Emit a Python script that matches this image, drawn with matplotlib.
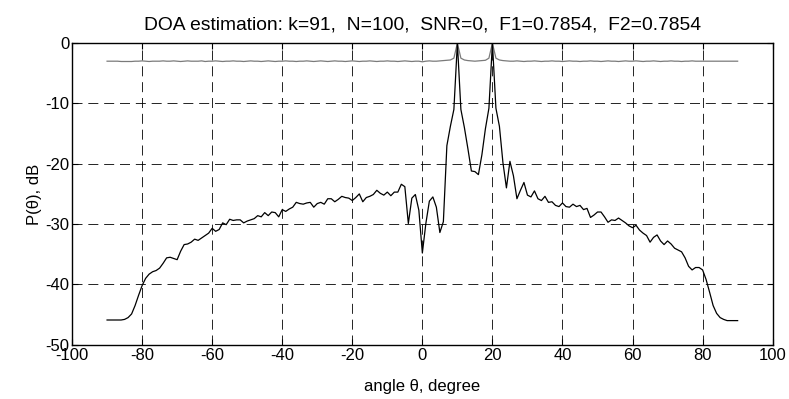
import numpy as np
import matplotlib
matplotlib.use("Agg")
import matplotlib.pyplot as plt

plt.rcParams["font.family"] = ["Liberation Sans", "DejaVu Sans"]
plt.rcParams["axes.unicode_minus"] = False

# angle grid, degrees
theta = list(range(-90, 91))

# classical (black) spectrum, dB at 1 degree steps
p_black = [
    -45.9, -45.9, -45.9, -45.9, -45.9, -45.8, -45.5, -44.9, -43.5, -41.8,  # -90..-81
    -40.2, -39.0, -38.3, -37.9, -37.7, -37.3, -36.5, -35.6, -35.5, -35.7,  # -80..-71
    -35.9, -34.5, -33.4, -33.3, -33.0, -32.5, -32.7, -32.3, -31.9, -31.5,  # -70..-61
    -30.7, -31.2, -30.9, -29.8, -30.1, -29.2, -29.4, -29.3, -29.3, -29.8,  # -60..-51
    -29.5, -29.3, -29.1, -28.6, -28.8, -28.1, -28.6, -28.0, -28.1, -28.8,  # -50..-41
    -27.6, -27.9, -27.5, -27.2, -26.4, -26.6, -26.7, -26.5, -26.4, -27.2,  # -40..-31
    -26.6, -26.4, -26.7, -25.8, -25.8, -26.3, -25.9, -25.4, -25.6, -25.7,  # -30..-21
    -26.1, -25.6, -25.0, -26.3, -25.6, -25.4, -25.1, -24.4, -24.9, -25.2,  # -20..-11
    -24.7, -25.3, -24.7, -24.7, -23.4, -23.8, -29.9, -25.7, -25.1, -27.7,  # -10..-1
    -34.8, -29.9, -26.2, -25.5, -27.2, -31.4, -29.6, -17.0, -13.8, -11.0,  # 0..9
    0.0, -11.0, -14.0, -17.5, -21.2, -21.3, -21.8, -18.5, -14.2, -10.8,    # 10..19
    0.0, -10.8, -13.8, -19.8, -24.0, -19.6, -22.0, -25.8, -24.4, -23.1,    # 20..29
    -25.2, -25.5, -24.5, -25.8, -26.1, -25.4, -26.4, -26.3, -26.9, -27.1,  # 30..39
    -26.5, -27.1, -27.2, -26.7, -27.1, -26.9, -27.6, -27.4, -28.9, -28.5,  # 40..49
    -28.0, -28.0, -28.8, -29.7, -29.3, -29.4, -29.0, -29.4, -29.8, -30.3,  # 50..59
    -30.6, -30.2, -31.0, -31.5, -31.9, -33.0, -32.2, -31.8, -32.8, -33.4,  # 60..69
    -32.8, -33.3, -34.0, -34.3, -34.6, -35.6, -37.0, -37.6, -37.2, -37.2,  # 70..79
    -37.6, -39.2, -41.3, -43.5, -44.8, -45.5, -45.8, -46.0, -46.0, -46.0,  # 80..89
    -46.0,                                                                 # 90
]

# high resolution (grey) spectrum, dB
p_grey = [
    -3.0, -3.0, -3.0, -3.0, -3.05, -3.05, -3.05, -3.05, -3.0, -3.0,
    -2.95, -3.0, -3.05, -3.0, -3.0, -3.0, -2.95, -3.0, -3.0, -2.95,
    -3.0, -3.05, -3.0, -2.95, -3.0, -3.0, -3.0, -2.95, -3.05, -3.0,
    -3.0, -2.95, -3.0, -3.05, -3.0, -3.0, -2.95, -3.0, -3.0, -3.05,
    -3.0, -2.95, -3.0, -3.0, -3.05, -3.0, -2.95, -3.0, -3.05, -3.0,
    -3.0, -2.95, -3.0, -3.0, -3.05, -3.0, -3.0, -2.95, -3.0, -3.05,
    -3.0, -2.95, -3.0, -3.05, -3.0, -2.95, -3.0, -3.0, -3.05, -3.0,
    -2.95, -3.0, -3.05, -3.0, -3.0, -2.95, -3.0, -3.05, -3.0, -3.0,
    -2.95, -3.0, -3.0, -3.05, -3.0, -2.95, -3.0, -3.05, -3.0, -3.0,
    -3.1, -3.0, -2.95, -3.0, -3.0, -2.95, -2.9, -2.85, -2.8, -2.5,
    0.0, -2.5, -2.8, -2.9, -2.95, -3.0, -2.95, -2.9, -2.85, -2.5,
    0.0, -2.5, -2.8, -2.9, -2.95, -3.0, -3.0, -2.95, -3.0, -3.05,
    -3.0, -3.0, -2.95, -3.0, -3.05, -3.0, -3.0, -2.95, -3.0, -3.0,
    -3.05, -3.0, -2.95, -3.0, -3.0, -3.05, -3.0, -3.0, -2.95, -3.0,
    -3.0, -3.05, -3.0, -2.95, -3.0, -3.0, -3.05, -3.0, -2.95, -3.0,
    -3.0, -2.95, -3.0, -3.05, -3.0, -3.0, -2.95, -3.0, -3.05, -3.0,
    -3.0, -2.95, -3.0, -3.0, -3.05, -3.0, -3.0, -2.95, -3.0, -3.0,
    -3.0, -3.0, -3.0, -3.0, -3.0, -3.0, -3.0, -3.0, -3.0, -3.0,
    -3.0,
]

title = "DOA estimation: k=91,  N=100,  SNR=0,  F1=0.7854,  F2=0.7854"
xticks = [-100, -80, -60, -40, -20, 0, 20, 40, 60, 80, 100]
yticks = [-50, -40, -30, -20, -10, 0]

fig = plt.figure(figsize=(7.89, 3.99), dpi=100)
ax = fig.add_axes([0.0913, 0.136, 0.888, 0.756])

ax.plot(theta, p_grey, color="#7a7a7a", linewidth=0.9)
ax.plot(theta, p_black, color="black", linewidth=0.9)

ax.set_xlim(-100, 100)
ax.set_ylim(-50, 0)
ax.set_xticks(xticks)
ax.set_yticks(yticks)
ax.grid(True, color="black", linestyle=(0, (12, 7)), linewidth=0.6)
ax.tick_params(direction="in", length=4, width=0.8, labelsize=12,
               top=True, right=True, pad=2)
for s in ax.spines.values():
    s.set_linewidth(1.0)

ax.set_title(title, fontsize=13.9, pad=10)
ax.set_xlabel("angle θ, degree", fontsize=12, labelpad=12)
ax.set_ylabel("P(θ), dB", fontsize=12, labelpad=2)

fig.savefig("out.png", dpi=100)
